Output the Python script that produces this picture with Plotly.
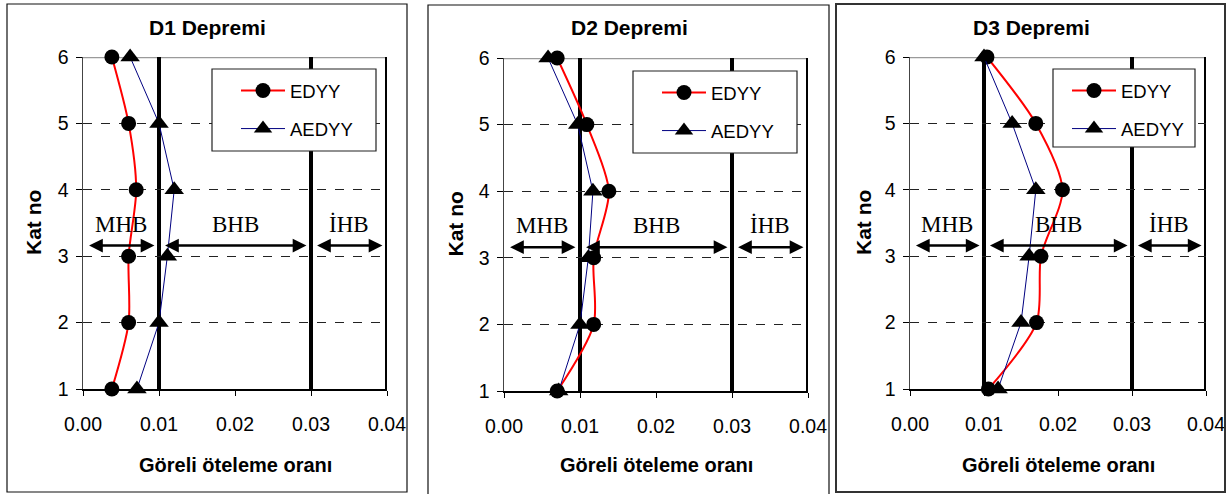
import plotly.graph_objects as go

W, H = 1229, 494

floors = [1, 2, 3, 4, 5, 6]
panel_titles = ["D1 Depremi", "D2 Depremi", "D3 Depremi"]
series_names = ["EDYY", "AEDYY"]

d1_edyy = [0.0038, 0.0060, 0.0060, 0.0070, 0.0060, 0.0038]
d1_aedyy = [0.0071, 0.0100, 0.0111, 0.0120, 0.0100, 0.0062]
d2_edyy = [0.0070, 0.0118, 0.0118, 0.0138, 0.0109, 0.0070]
d2_aedyy = [0.0072, 0.0100, 0.0111, 0.0117, 0.0097, 0.0058]
d3_edyy = [0.0106, 0.0171, 0.0177, 0.0206, 0.0170, 0.0104]
d3_aedyy = [0.0119, 0.0150, 0.0161, 0.0170, 0.0138, 0.0100]

x_ticks = [0.0, 0.01, 0.02, 0.03, 0.04]
y_ticks = [1, 2, 3, 4, 5, 6]
zone_limits = [0.0, 0.01, 0.03, 0.04]
zone_labels = ["MHB", "BHB", "İHB"]
x_title = "Göreli öteleme oranı"
y_title = "Kat no"

panels = [
    (d1_edyy, d1_aedyy),
    (d2_edyy, d2_aedyy),
    (d3_edyy, d3_aedyy),
]

# layout geometry (pixels)
plot_px = [(83, 387, 57, 389), (504, 808, 58, 391), (910, 1206, 57, 389)]
border_px = [(7, 407, 4, 492), (428, 829, 5, 497), (836, 1225, 4, 492)]
border_style = [("#111111", 1.2), ("#111111", 1.2), ("#333333", 2)]
legend_px = [(212, 376, 69, 151), (633, 797, 71, 153), (1053, 1195, 69, 147)]
legend_inset = [24, 24, 14]
title_cx = [207, 629, 1031]
ytitle_x = [33, 455, 863]

def px(x):
    return x / W

def py(y):
    return 1 - y / H

fig = go.Figure()
shapes = []
annotations = []
layout = dict(
    width=W, height=H, autosize=False,
    margin=dict(l=0, r=0, t=0, b=0, pad=0),
    paper_bgcolor="white", plot_bgcolor="white",
    font=dict(family="Liberation Sans", color="black"),
    hovermode=False,
)

for i, (edyy, aedyy) in enumerate(panels):
    n = "" if i == 0 else str(i + 1)
    xa, ya = "x" + n, "y" + n
    leg = "legend" + n
    fig.add_trace(go.Scatter(
        x=edyy, y=floors, name=series_names[0], mode="lines+markers",
        line=dict(color="#ff0000", width=2, shape="spline", smoothing=0.8),
        marker=dict(symbol="circle", size=15, color="black"),
        xaxis=xa, yaxis=ya, legend=leg, legendgroup="a" + n, cliponaxis=False,
    ))
    fig.add_trace(go.Scatter(
        x=aedyy, y=floors, name=series_names[1], mode="lines+markers",
        line=dict(color="#000080", width=1),
        marker=dict(symbol="triangle-up", size=17, color="black"),
        xaxis=xa, yaxis=ya, legend=leg, legendgroup="b" + n, cliponaxis=False,
    ))
    x0, x1, y0, y1 = plot_px[i]
    layout["xaxis" + n] = dict(
        domain=[px(x0), px(x1)], anchor=ya, range=[0, 0.04], automargin=False,
        tickvals=x_ticks, tickformat=".2f", showgrid=False, zeroline=False,
        showline=True, linecolor="black", linewidth=1.5,
        ticks="outside", ticklen=5, tickcolor="black", tickwidth=1,
        tickfont=dict(family="Liberation Sans", size=19.5, color="black"),
        ticklabelstandoff=12,
    )
    layout["yaxis" + n] = dict(
        domain=[py(y1), py(y0)], anchor=xa, range=[1, 6], automargin=False,
        tickvals=y_ticks, showgrid=True, gridcolor="#222222", gridwidth=1,
        griddash="dash", zeroline=False,
        showline=True, linecolor="#444444", linewidth=1.5,
        ticks="outside", ticklen=6, tickcolor="black", tickwidth=1,
        tickfont=dict(family="Liberation Sans", size=19.5, color="black"),
        ticklabelstandoff=3,
    )
    # top border of plot area (gray)
    shapes.append(dict(type="line", xref=xa, yref=ya, x0=0, x1=0.04, y0=6, y1=6,
                       line=dict(color="#9a9a9a", width=2.5), layer="below"))
    # thick performance limit lines
    for lim in zone_limits[1:]:
        shapes.append(dict(type="line", xref=xa, yref=ya, x0=lim, x1=lim, y0=1, y1=6,
                           line=dict(color="black", width=4), layer="below"))
    # panel border
    bx0, bx1, by0, by1 = border_px[i]
    bc, bw = border_style[i]
    shapes.append(dict(type="rect", xref="paper", yref="paper",
                       x0=px(bx0), x1=px(bx1), y0=py(by1), y1=py(by0),
                       line=dict(color=bc, width=bw), layer="above"))
    # legend box
    lx0, lx1, ly0, ly1 = legend_px[i]
    shapes.append(dict(type="rect", xref="paper", yref="paper",
                       x0=px(lx0), x1=px(lx1), y0=py(ly1), y1=py(ly0),
                       line=dict(color="#222222", width=1.2), fillcolor="white",
                       layer="above"))
    layout[leg] = dict(
        x=px(lx0 + legend_inset[i]), y=py(ly0 + 3), xanchor="left", yanchor="top",
        bgcolor="rgba(0,0,0,0)", borderwidth=0,
        font=dict(family="Liberation Sans", size=18.5, color="black"),
        tracegroupgap=11, itemwidth=44,
    )
    # titles
    annotations.append(dict(text="<b>%s</b>" % panel_titles[i], xref="paper", yref="paper",
                            x=px(title_cx[i]), y=py(27), showarrow=False,
                            xanchor="center", yanchor="middle",
                            font=dict(family="Liberation Sans", size=21, color="black")))
    annotations.append(dict(text="<b>%s</b>" % x_title, xref="paper", yref="paper",
                            x=px((x0 + x1) / 2), y=py(465), showarrow=False,
                            xanchor="center", yanchor="middle",
                            font=dict(family="Liberation Sans", size=20, color="black")))
    annotations.append(dict(text="<b>%s</b>" % y_title, xref="paper", yref="paper",
                            x=px(ytitle_x[i]), y=py((y0 + y1) / 2), showarrow=False,
                            textangle=-90, xanchor="center", yanchor="middle",
                            font=dict(family="Liberation Sans", size=21, color="black")))
    # zone arrows and labels
    for k, lab in enumerate(zone_labels):
        a, b = zone_limits[k], zone_limits[k + 1]
        annotations.append(dict(text="", xref=xa, yref=ya, axref=xa, ayref=ya,
                                x=b - 0.0006, y=3.16, ax=a + 0.0006, ay=3.16,
                                showarrow=True, arrowhead=2, arrowside="end+start",
                                arrowsize=1.1, arrowwidth=2.5, arrowcolor="black",
                                standoff=0, startstandoff=0))
        annotations.append(dict(text=lab, xref=xa, yref=ya, x=(a + b) / 2, y=3.48,
                                showarrow=False, xanchor="center", yanchor="middle",
                                font=dict(family="Liberation Serif", size=23, color="black")))

layout["shapes"] = shapes
layout["annotations"] = annotations
fig.update_layout(**layout)
fig.write_html("out.html", config={"displayModeBar": False, "staticPlot": True},
               post_script="document.body.style.margin='0';document.body.style.padding='0';")
